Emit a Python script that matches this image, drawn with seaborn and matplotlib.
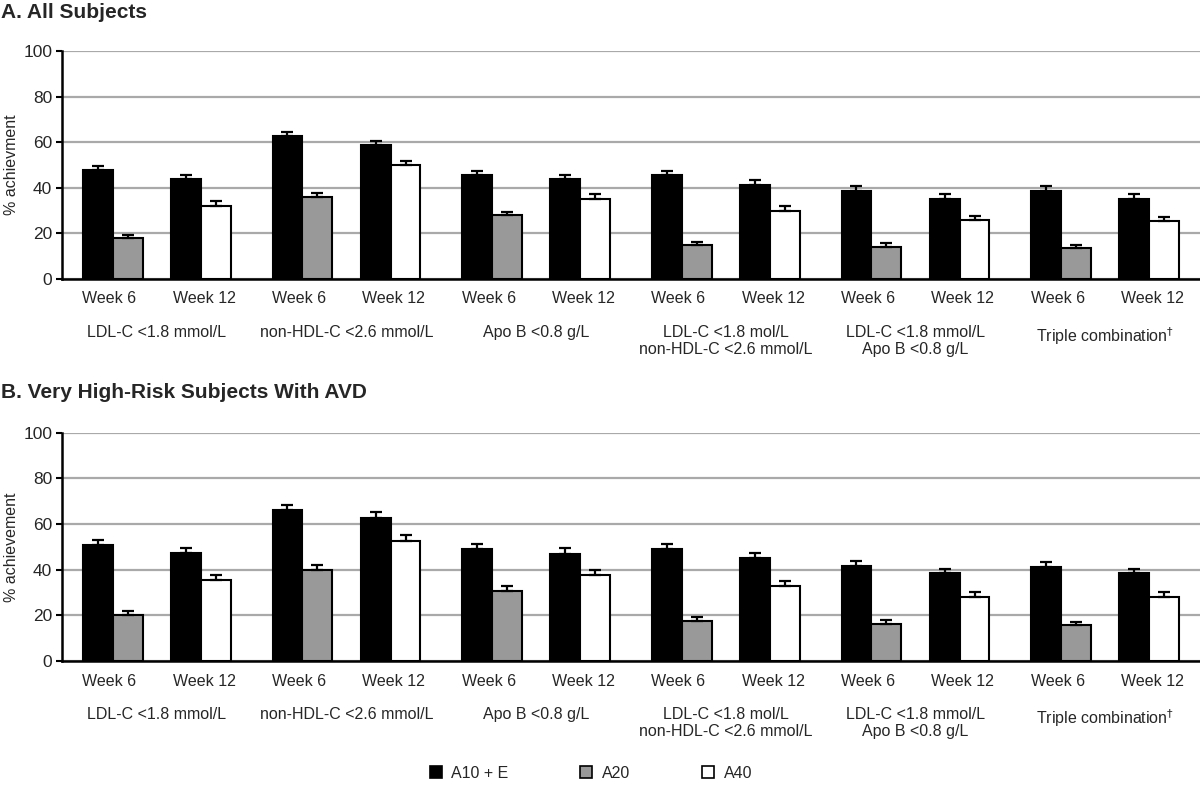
import numpy as np
import pandas as pd
import matplotlib
matplotlib.use("Agg")
import matplotlib.pyplot as plt
import seaborn as sns
from matplotlib.patches import Patch

# target groups and weeks
groups = ["LDL-C <1.8 mmol/L", "non-HDL-C <2.6 mmol/L", "Apo B <0.8 g/L",
          "LDL-C <1.8 mol/L\nnon-HDL-C <2.6 mmol/L",
          "LDL-C <1.8 mmol/L\nApo B <0.8 g/L",
          "Triple combination$^{\\dagger}$"]
weeks = ["Week 6", "Week 12"]

# panel A - all subjects (A10+E, then A20 at week 6 / A40 at week 12)
a_combo = [47.6, 43.8, 62.5, 58.6, 45.5, 43.8, 45.5, 41.3, 38.8, 35.3, 38.8, 35.3]
a_comp = [18.0, 32.2, 35.9, 49.8, 28.0, 35.3, 14.9, 30.0, 14.2, 25.8, 13.5, 25.5]
a_combo_err = [2.0, 2.0, 2.0, 2.0, 2.0, 2.0, 2.0, 2.0, 1.8, 1.8, 1.8, 1.8]
a_comp_err = [1.5, 2.1, 1.8, 2.1, 1.6, 2.0, 1.4, 1.9, 1.4, 1.8, 1.4, 1.8]

# panel B - very high-risk subjects with AVD
b_combo = [50.9, 47.4, 66.1, 62.8, 49.1, 47.0, 49.1, 45.1, 41.5, 38.4, 41.0, 38.4]
b_comp = [20.0, 35.5, 39.7, 52.6, 30.8, 37.8, 17.7, 32.7, 16.4, 28.2, 15.8, 28.1]
b_combo_err = [2.3, 2.3, 2.3, 2.3, 2.3, 2.3, 2.3, 2.3, 2.3, 2.0, 2.3, 2.0]
b_comp_err = [2.0, 2.3, 2.3, 2.4, 2.0, 2.2, 1.6, 2.3, 1.5, 2.0, 1.5, 2.0]

legend_names = ["A10 + E", "A20", "A40"]
colors = {"A10 + E": "black", "A20": "#999999", "A40": "white"}

sns.set_theme(style="white")
plt.rcParams['font.family'] = ['Liberation Sans', 'DejaVu Sans']

fig = plt.figure(figsize=(12, 7.95), dpi=100)


def make_df(combo, comp, combo_err, comp_err):
    rows = []
    for i in range(len(combo)):
        slot = f"s{i}"
        week = weeks[i % 2]
        other = "A20" if week == "Week 6" else "A40"
        rows.append([slot, "left", "A10 + E", combo[i], combo_err[i]])
        rows.append([slot, "right", other, comp[i], comp_err[i]])
    return pd.DataFrame(rows, columns=["slot", "pos", "treat", "value", "err"])


def draw_panel(ax, df, ylabel):
    slots = [f"s{i}" for i in range(12)]
    sns.barplot(data=df, x="slot", y="value", hue="pos", order=slots,
                hue_order=["left", "right"], palette={"left": "black", "right": "white"},
                width=0.63, gap=0, edgecolor="black", linewidth=1.5,
                errorbar=None, legend=False, ax=ax, zorder=3)
    # recolor, nudge pairs towards the middle of each group, add upper error bars
    for k, pos in enumerate(["left", "right"]):
        sub = df[df["pos"] == pos].set_index("slot").loc[slots]
        bars = ax.containers[k]
        for i, (bar, (_, r)) in enumerate(zip(bars, sub.iterrows())):
            bar.set_facecolor(colors[r["treat"]])
            bar.set_x(bar.get_x() + (0.035 if i % 2 == 0 else -0.035))
            cx = bar.get_x() + bar.get_width() / 2
            ax.errorbar(cx, r["value"], yerr=[[0], [r["err"]]], color="black",
                        lw=1.6, capsize=4.5, capthick=1.6, zorder=4)
    ax.set_xlim(-0.5, 11.5)
    ax.set_ylim(0, 100)
    ax.set_yticks(np.arange(0, 101, 20))
    ax.yaxis.grid(True, color="#a9a9a9", lw=1.6, zorder=0)
    ax.set_axisbelow(True)
    ax.set_xticks(range(12))
    ax.set_xticklabels([weeks[i % 2] for i in range(12)])
    ax.set_xticks(np.arange(-0.5, 12, 1), minor=True)
    ax.tick_params(axis="x", which="major", length=0, pad=9, labelsize=11.5)
    ax.tick_params(axis="x", which="minor", length=5, width=1.5, direction="out", color="black")
    ax.tick_params(axis="y", length=4, width=1.5, direction="out", color="black",
                   labelsize=12.5, left=True, pad=3)
    for s in ["top", "right"]:
        ax.spines[s].set_visible(False)
    for s in ["left", "bottom"]:
        ax.spines[s].set_color("black")
        ax.spines[s].set_linewidth(1.8)
    ax.spines["bottom"].set_zorder(5)
    ax.set_xlabel("")
    ax.set_ylabel(ylabel, fontsize=11.5, labelpad=3)
    for g, name in enumerate(groups):
        ax.annotate(name, xy=(2 * g + 0.5, 0), xycoords=ax.get_xaxis_transform(),
                    xytext=(0, -33), textcoords="offset points",
                    ha="center", va="top", fontsize=11.5, linespacing=1.15)


ax_a = fig.add_axes([62 / 1200, 1 - 279 / 795, 1138 / 1200, 228 / 795])
draw_panel(ax_a, make_df(a_combo, a_comp, a_combo_err, a_comp_err), "% achievment")

ax_b = fig.add_axes([62 / 1200, 1 - 661 / 795, 1138 / 1200, 228.3 / 795])
draw_panel(ax_b, make_df(b_combo, b_comp, b_combo_err, b_comp_err), "% achievement")

fig.text(0.001, 1 - 13 / 795, "A. All Subjects", fontsize=15, fontweight="bold",
         va="center", ha="left")
fig.text(0.001, 1 - 393 / 795, "B. Very High-Risk Subjects With AVD", fontsize=15,
         fontweight="bold", va="center", ha="left")

handles = [Patch(facecolor=colors[n], edgecolor="black", linewidth=1.2, label=n)
           for n in legend_names]
fig.legend(handles=handles, loc="center", bbox_to_anchor=(591 / 1200, 1 - 773 / 795),
           ncol=3, frameon=False, fontsize=11.5, handlelength=0.75, handleheight=0.75,
           handletextpad=0.6, columnspacing=4.5)

fig.savefig("out.png", dpi=100)
